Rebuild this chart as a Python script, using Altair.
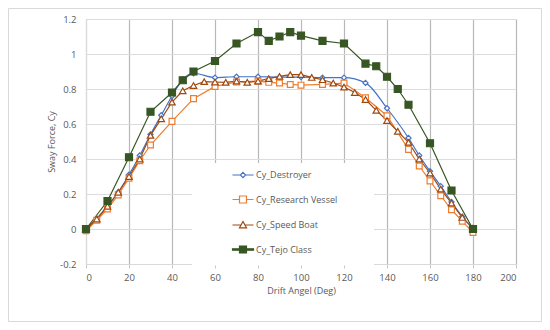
import altair as alt
import pandas as pd

# ---------------- data ----------------
series_names = ["Cy_Destroyer", "Cy_Research Vessel", "Cy_Speed Boat", "Cy_Tejo Class"]

destroyer_angle = [0, 5, 10, 15, 20, 25, 30, 35, 40, 45, 50, 60, 70, 80, 90, 100, 110, 120,
                   130, 140, 150, 155, 160, 165, 170, 175, 180]
destroyer_cy = [0.0, 0.06, 0.13, 0.21, 0.31, 0.42, 0.54, 0.65, 0.76, 0.855, 0.89, 0.865, 0.87,
                0.87, 0.868, 0.868, 0.865, 0.865, 0.835, 0.69, 0.52, 0.42, 0.33, 0.245, 0.155,
                0.07, 0.0]

research_angle = [0, 5, 10, 15, 20, 25, 30, 40, 50, 60, 70, 80, 85, 90, 95, 100, 110, 120,
                  130, 140, 150, 155, 160, 165, 170, 175, 180]
research_cy = [-0.01, 0.05, 0.115, 0.195, 0.29, 0.39, 0.48, 0.615, 0.745, 0.815, 0.84, 0.845,
               0.838, 0.834, 0.826, 0.822, 0.826, 0.834, 0.75, 0.647, 0.455, 0.36, 0.275, 0.19,
               0.11, 0.045, -0.02]

speed_angle = [0, 5, 10, 15, 20, 25, 30, 35, 40, 45, 50, 55, 60, 65, 70, 75, 80, 85, 90, 95,
               100, 105, 110, 115, 120, 125, 130, 135, 140, 145, 150, 155, 160, 165, 170, 175, 180]
speed_cy = [0.0, 0.057, 0.13, 0.21, 0.30, 0.40, 0.535, 0.63, 0.725, 0.79, 0.82, 0.842, 0.84,
            0.838, 0.845, 0.838, 0.845, 0.859, 0.872, 0.882, 0.882, 0.866, 0.853, 0.834, 0.811,
            0.78, 0.74, 0.678, 0.62, 0.558, 0.495, 0.40, 0.32, 0.228, 0.148, 0.066, 0.005]

tejo_angle = [0, 10, 20, 30, 40, 45, 50, 60, 70, 80, 85, 90, 95, 100, 110, 120, 130, 135,
              140, 145, 150, 160, 170, 180]
tejo_cy = [0.0, 0.16, 0.41, 0.67, 0.78, 0.85, 0.90, 0.96, 1.06, 1.125, 1.075, 1.10, 1.125,
           1.105, 1.075, 1.06, 0.945, 0.93, 0.87, 0.80, 0.71, 0.49, 0.22, 0.0]

x_ticks = [0, 20, 40, 60, 80, 100, 120, 140, 160, 180, 200]
y_ticks = [-0.2, 0, 0.2, 0.4, 0.6, 0.8, 1.0, 1.2]

frames = []
for name, ang, cy in zip(series_names,
                         [destroyer_angle, research_angle, speed_angle, tejo_angle],
                         [destroyer_cy, research_cy, speed_cy, tejo_cy]):
    frames.append(pd.DataFrame({"series": name, "angle": ang, "cy": cy}))
df = pd.concat(frames, ignore_index=True)

# ---------------- styles ----------------
stroke_colors = ["#4472C4", "#ED7D31", "#9E480E", "#375623"]
fill_colors = ["white", "white", "white", "#375623"]
marker_shapes = ["diamond", "square", "triangle-up", "square"]
marker_sizes = [26, 49, 45, 64]
line_widths = [1.2, 1.2, 1.4, 2.75]
legend_paths = [
    "M-3,0H-0.75M0.75,0H3M0,-0.75L0.75,0L0,0.75L-0.75,0Z",
    "M-3,0H-1M1,0H3M-1,-1H1V1H-1Z",
    "M-3,0H-0.55M0.55,0H3M0,-1L1,0.8H-1Z",
    "M-3,-0.22H3V0.22H-3Z M-1,-1H1V1H-1Z",
]

FONT = "Open Sans"
TXT = "#595959"

x_enc = alt.X(
    "angle:Q",
    scale=alt.Scale(domain=[0, 200], nice=False, zero=False),
    axis=alt.Axis(
        values=x_ticks, title="Drift Angel (Deg)", grid=True,
        gridColor="#b8b8b8", gridWidth=1.2, gridOpacity=1,
        domainColor="#d9d9d9", tickColor="#c8c8c8", tickSize=4,
        labelPadding=4, titlePadding=5, labelFont=FONT, labelFontSize=9.5, labelColor=TXT,
        titleFont=FONT, titleFontSize=9, titleFontWeight="normal", titleColor=TXT,
    ),
)
y_enc = alt.Y(
    "cy:Q",
    scale=alt.Scale(domain=[-0.2, 1.2], nice=False, zero=False),
    axis=alt.Axis(
        values=y_ticks, title="Sway Force, Cy", grid=True, gridColor="#dcdcdc", gridWidth=1,
        gridOpacity=1, ticks=False, domainColor="#d9d9d9", labelPadding=10, titlePadding=3,
        labelExpr="replace(format(datum.value, '~g'), '\u2212', '-')",
        labelFont=FONT, labelFontSize=9.5, labelColor=TXT,
        titleFont=FONT, titleFontSize=9, titleFontWeight="normal", titleColor=TXT,
    ),
)

stroke_scale = alt.Scale(domain=series_names, range=stroke_colors)
fill_scale = alt.Scale(domain=series_names, range=fill_colors)

one = pd.DataFrame({"k": [0]})

border = alt.Chart(one).mark_rect(fill="transparent", stroke="#d9d9d9", strokeWidth=1).encode(
    x=alt.value(-77.5), x2=alt.value(455.5), y=alt.value(-10.5), y2=alt.value(302.5)
)

legend_bg = alt.Chart(one).mark_rect(fill="white").encode(
    x=alt.value(106), x2=alt.value(288), y=alt.value(144), y2=alt.value(246.5)
)

line_enc = dict(
    x=x_enc, y=y_enc,
    stroke=alt.Stroke("series:N", scale=stroke_scale, legend=None),
    strokeWidth=alt.StrokeWidth("series:O", scale=alt.Scale(domain=series_names, range=line_widths), legend=None),
    order=alt.Order("angle:Q"),
)

lines_destroyer = alt.Chart(df).mark_line(interpolate="monotone").encode(**line_enc).transform_filter(
    alt.datum.series == series_names[0]
)
lines_other = alt.Chart(df).mark_line().encode(**line_enc).transform_filter(
    alt.datum.series != series_names[0]
)

points = alt.Chart(df).mark_point(opacity=1, strokeWidth=1.2).encode(
    x=x_enc, y=y_enc,
    stroke=alt.Stroke("series:N", scale=stroke_scale, legend=None),
    fill=alt.Fill("series:N", scale=fill_scale, legend=None),
    shape=alt.Shape("series:N", scale=alt.Scale(domain=series_names, range=marker_shapes), legend=None),
    size=alt.Size("series:N", scale=alt.Scale(domain=series_names, range=marker_sizes), legend=None),
)

leg = alt.Legend(
    orient="none", legendX=152.5, legendY=151.5, title=None, padding=0,
    labelFont=FONT, labelFontSize=9, labelColor=TXT, labelOffset=8.5,
    symbolSize=49, symbolStrokeWidth=1.2, rowPadding=12.5,
)
legend_layer = alt.Chart(df).mark_point(opacity=1, strokeWidth=1.2).encode(
    stroke=alt.Stroke("series:N", scale=stroke_scale, legend=leg),
    fill=alt.Fill("series:N", scale=fill_scale, legend=leg),
    shape=alt.Shape("series:N", scale=alt.Scale(domain=series_names, range=legend_paths), legend=leg),
).transform_filter("false")

chart = alt.layer(
    border, legend_bg, lines_destroyer, lines_other, points, legend_layer
).resolve_scale(
    stroke="independent", fill="independent", shape="independent",
    size="independent", strokeWidth="independent",
).properties(
    width=430, height=245,
    padding={"left": 78, "top": 11, "right": 26, "bottom": 58},
    autosize=alt.AutoSizeParams(type="none"),
    background="white",
).configure_view(stroke=None)

chart.save("out.html", embed_options={"renderer": "svg", "actions": False})
